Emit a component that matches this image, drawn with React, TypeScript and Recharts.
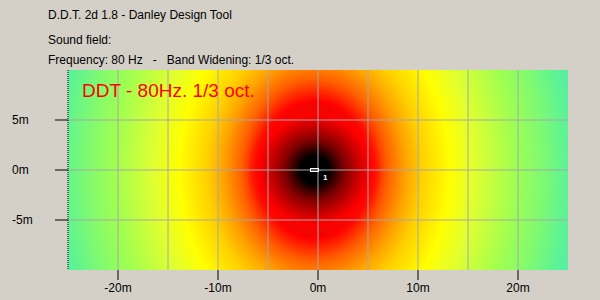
import { ComposedChart, XAxis, YAxis, Scatter, ReferenceArea, ReferenceLine } from "recharts";

// sound field profile read along the axis from the source (metres -> colour)
const FIELD_DIST = [0, 1.4, 3, 4.5, 5.5, 7.3, 9, 10.7, 13.5, 16, 18, 20, 22.7, 25, 26];
const FIELD_COLOR = [
  "#000000", "#000000", "#800000", "#d00000", "#ff0000", "#ff6000", "#ffa000", "#ffd000",
  "#ffff00", "#e0ff30", "#c0ff40", "#a0ff50", "#80fa70", "#60f490", "#58f0a0",
];
const FIELD_RADIUS = 26;
// far away the field reaches less far up/down than sideways
const FIELD_Y_SQUEEZE = 0.8;

// near the source the field is round
const CORE_DIST = [0, 1.4, 3, 4.5, 5.5, 6.8];
const CORE_COLOR = ["#000000", "#000000", "#800000", "#d00000", "#ff0000", "#ff1000"];
const CORE_OPACITY = [1, 1, 1, 1, 1, 0];
const CORE_RADIUS = 7;

const X_TICKS = [-20, -10, 0, 10, 20];
const Y_TICKS = [-5, 0, 5];
const GRID_X = [-20, -15, -10, -5, 0, 5, 10, 15, 20];
const GRID_Y = [-5, 0, 5];

const SOURCES = [{ x: -0.35, y: 0, id: "1" }];

const FONT = "'Liberation Sans', Arial, sans-serif";

const SourceMark = (props: any) => {
  const { cx, cy, payload } = props;
  return (
    <g>
      <rect x={cx - 4} y={cy - 1.5} width={8} height={3} fill="none" stroke="#ffffff" />
      <line x1={cx + 5} y1={cy + 0.5} x2={cx + 7} y2={cy + 0.5} stroke="#3090d0" />
      <text x={cx + 8.5} y={cy + 10} fill="#ffffff" fontSize={8} fontWeight="bold" fontFamily={FONT}>
        {payload.id}
      </text>
    </g>
  );
};

const YTick = (props: any) => (
  <text x={12} y={props.y + 4} fontSize={12} fontFamily={FONT} fill="#000">
    {props.payload.value}m
  </text>
);

const XTick = (props: any) => (
  <text x={props.x} y={292} textAnchor="middle" fontSize={12} fontFamily={FONT} fill="#000">
    {props.payload.value}m
  </text>
);

export default function App() {
  const cxRel = (SOURCES[0].x + 25) / 50;
  const aspect = 500 / 200;
  const squeeze = (s: number) => `translate(${cxRel} 0.5) scale(1 ${s}) translate(${-cxRel} -0.5)`;
  return (
    <div style={{ position: "fixed", left: 0, top: 0, width: 600, height: 300, background: "#d4d0c8" }}>
      <ComposedChart width={600} height={300} margin={{ top: 70, right: 32, bottom: 0, left: 8 }}>
        <defs>
          <radialGradient id="soundField" cx={cxRel} cy={0.5} r={FIELD_RADIUS / 50}
            gradientTransform={squeeze(aspect / FIELD_Y_SQUEEZE)}>
            {FIELD_DIST.map((d, i) => (
              <stop key={i} offset={d / FIELD_RADIUS} stopColor={FIELD_COLOR[i]} />
            ))}
          </radialGradient>
          <radialGradient id="soundCore" cx={cxRel} cy={0.5} r={CORE_RADIUS / 50}
            gradientTransform={squeeze(aspect)}>
            {CORE_DIST.map((d, i) => (
              <stop key={i} offset={d / CORE_RADIUS} stopColor={CORE_COLOR[i]} stopOpacity={CORE_OPACITY[i]} />
            ))}
          </radialGradient>
        </defs>
        <XAxis
          type="number"
          dataKey="x"
          domain={[-25, 25]}
          ticks={X_TICKS}
          allowDataOverflow
          height={30}
          axisLine={false}
          tickSize={10}
          tickLine={{ stroke: "#000" }}
          tick={<XTick />}
        />
        <YAxis
          type="number"
          dataKey="y"
          domain={[-10, 10]}
          ticks={Y_TICKS}
          allowDataOverflow
          width={60}
          axisLine={{ stroke: "#000", strokeDasharray: "1 1" }}
          tickSize={13}
          tickLine={{ stroke: "#000" }}
          tick={<YTick />}
        />
        <ReferenceArea x1={-25} x2={25} y1={-10} y2={10} fill="url(#soundField)" fillOpacity={1} stroke="none" />
        <ReferenceArea x1={-25} x2={25} y1={-10} y2={10} fill="url(#soundCore)" fillOpacity={1} stroke="none" />
        {GRID_X.map((v) => (
          <ReferenceLine key={"gx" + v} x={v} stroke="#a8a8a8" />
        ))}
        {GRID_Y.map((v) => (
          <ReferenceLine key={"gy" + v} y={v} stroke="#a8a8a8" />
        ))}
        <Scatter data={SOURCES} shape={<SourceMark />} isAnimationActive={false} />
      </ComposedChart>
      <svg width={600} height={300} style={{ position: "absolute", left: 0, top: 0, pointerEvents: "none" }}>
        <g fontFamily={FONT} fontSize={12} fill="#000">
          <text x={48} y={19}>D.D.T. 2d 1.8 - Danley Design Tool</text>
          <text x={48} y={44}>Sound field:</text>
          <text x={48} y={64} style={{ whiteSpace: "pre" }}>
            Frequency: 80 Hz   -   Band Widening: 1/3 oct.
          </text>
        </g>
        <text x={82} y={97} fontFamily={FONT} fontSize={19} fill="#ff0000">
          DDT - 80Hz. 1/3 oct.
        </text>
      </svg>
    </div>
  );
}
